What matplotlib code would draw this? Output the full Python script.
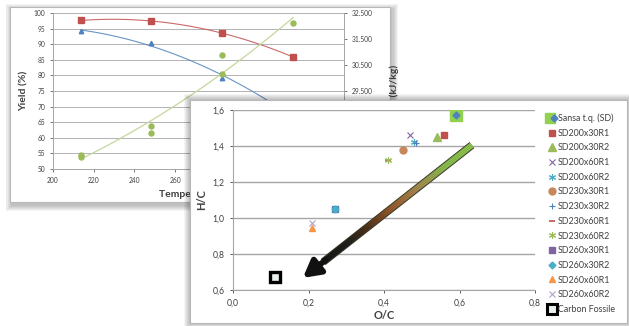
# two overlapping Excel-style panels: yield / HHV vs temperature, and van Krevelen H/C vs O/C

import matplotlib
matplotlib.use('Agg')
from matplotlib import pyplot as plt
from matplotlib.patches import Rectangle
from matplotlib.collections import LineCollection
from matplotlib.colors import LinearSegmentedColormap
from matplotlib.lines import Line2D
from matplotlib.legend_handler import HandlerTuple
import numpy as np

plt.rcParams['font.family'] = ['Lato', 'DejaVu Sans']

# ---- back panel data (temperature series)
temp = [214, 248, 283, 318]
yield_solid = [97.6, 97.5, 93.5, 85.9]          # red squares
yield_energy = [94.2, 90.4, 79.2, 67.0]         # blue triangles
temp_hhv = [214, 214, 248, 248, 283, 283, 318]
hhv = [26980, 27050, 28140, 27880, 30880, 30140, 32100]  # green circles, right axis

# ---- front panel data (van Krevelen)
samples = ['Sansa t.q. (SD)', 'SD200x30R1', 'SD200x30R2', 'SD200x60R1', 'SD200x60R2',
           'SD230x30R1', 'SD230x30R2', 'SD230x60R1', 'SD230x60R2', 'SD260x30R1',
           'SD260x30R2', 'SD260x60R1', 'SD260x60R2', 'Carbon Fossile']
oc = [0.59, 0.56, 0.54, 0.47, 0.48, 0.45, 0.485, 0.41, 0.41, 0.27, 0.27, 0.21, 0.21, 0.11]
hc = [1.57, 1.46, 1.45, 1.46, 1.42, 1.38, 1.415, 1.32, 1.32, 1.05, 1.05, 0.945, 0.97, 0.675]
arrow_oc = [0.633, 0.185]
arrow_hc = [1.405, 0.667]

W, H = 629, 326
fig = plt.figure(figsize=(W / 100, H / 100), dpi=100)
fig.patch.set_facecolor('white')


def frac(x0, y0, x1, y1):
    # pixel box (top-left origin) -> figure fraction rect
    return [x0 / W, 1 - y1 / H, (x1 - x0) / W, (y1 - y0) / H]


def panel(x0, y0, x1, y1, z, dx=3, dy=3):
    for i in range(6, 0, -1):
        r = Rectangle(((x0 - i + dx * 0.5) / W, 1 - (y1 + i + dy) / H),
                      (x1 - x0 + 2 * i) / W, (y1 - y0 + 2 * i) / H,
                      transform=fig.transFigure, facecolor='black', alpha=0.045,
                      edgecolor='none', zorder=z)
        fig.add_artist(r)
    r = Rectangle((x0 / W, 1 - y1 / H), (x1 - x0) / W, (y1 - y0) / H,
                  transform=fig.transFigure, facecolor='white', edgecolor='#b8b8b8',
                  lw=0.8, zorder=z + 0.05)
    fig.add_artist(r)


# ================= back panel =================
panel(10, 7, 390, 202, 0.1)

ax1 = fig.add_axes(frac(53, 13, 344, 169))
ax1.set_zorder(0.5)
ax1.patch.set_visible(False)
ax2 = ax1.twinx()
ax2.set_zorder(0.6)

tf = np.linspace(min(temp), max(temp), 100)
p_red = np.polyfit(temp, yield_solid, 2)
p_blue = np.polyfit(temp, yield_energy, 2)
p_green = np.polyfit(temp_hhv, hhv, 2)
ax1.plot(tf, np.polyval(p_red, tf), color='#c0504d', lw=0.8, alpha=0.85)
ax1.plot(tf, np.polyval(p_blue, tf), color='#4f81bd', lw=0.8, alpha=0.85)
ax1.plot(temp, yield_solid, 's', color='#c0504d', ms=4.2, ls='none')
ax1.plot(temp, yield_energy, '^', color='#4f81bd', ms=3.2, ls='none')
ax2.plot(tf, np.polyval(p_green, tf), color='#c4d79b', lw=0.9)
ax2.plot(temp_hhv, hhv, 'o', color='#9bbb59', ms=3.6, ls='none')

ax1.set_xlim(200, 343)
ax1.set_ylim(50, 100)
ax1.set_yticks(np.arange(50, 101, 5))
ax1.set_xticks(np.arange(200, 341, 20))
ax2.set_ylim(26500, 32500)
ax2.set_yticks(np.arange(26500, 32501, 1000))
ax2.set_yticklabels([f'{v:,.0f}'.replace(',', '.') for v in np.arange(26500, 32501, 1000)])

ax1.yaxis.grid(True, color='#a6a6a6', lw=0.6)
ax1.set_axisbelow(True)
for a in (ax1, ax2):
    for s in a.spines.values():
        s.set_color('#a6a6a6')
        s.set_linewidth(0.6)
    a.spines['top'].set_visible(False)
    a.tick_params(labelsize=4.8, colors='#404040', length=2, width=0.5)
ax2.spines['right'].set_visible(True)

ax1.set_ylabel('Yield (%)', fontsize=7.5, fontweight='bold', color='#404040', labelpad=4)
ax1.set_xlabel('Temperatura (°C)', fontsize=7.5, fontweight='bold', color='#404040', labelpad=4)
ax2.set_ylabel('PCS (kJ/kg)', fontsize=7.5, fontweight='bold', color='#404040',
               rotation=90, labelpad=12)

# ================= front panel =================
panel(190, 100, 627, 323, 1.0, dx=0, dy=0)

ax = fig.add_axes(frac(233, 110, 535, 290))
ax.set_zorder(2)
ax.patch.set_visible(False)

styles = [
    dict(marker='D', color='#4f81bd', ms=3.5),
    dict(marker='s', color='#c0504d', ms=5),
    dict(marker='^', color='#9bbb59', ms=5.5),
    dict(marker='x', color='#8064a2', ms=5, mew=0.8),
    dict(marker=(6, 2, 0), color='#4bacc6', ms=5, mew=0.8),
    dict(marker='o', color='#c8875a', ms=5),
    dict(marker='+', color='#4f81bd', ms=5, mew=0.8),
    dict(marker='_', color='#c0504d', ms=4, mew=1.2),
    dict(marker=(6, 2, 0), color='#9bbb59', ms=5, mew=0.8),
    dict(marker='s', color='#8064a2', ms=5),
    dict(marker='D', color='#4bacc6', ms=3.5),
    dict(marker='^', color='#f79646', ms=5),
    dict(marker='x', color='#b3a2c7', ms=5, mew=0.8),
    dict(marker='s', color='black', ms=7, mfc='#e8f0f0', mew=2.4),
]

# Sansa t.q.: green frame behind the diamond
ax.plot(oc[0], hc[0], 's', color='#92d050', ms=9, zorder=3)
hs = []
for i, name in enumerate(samples):
    st = dict(styles[i])
    if i == 9:
        st['color'] = '#4f81bd'  # visible square in the plot is blue
    ax.plot(oc[i], hc[i], ls='none', zorder=4, **st)
    hs.append(Line2D([], [], ls='none', **styles[i]))
hs[0] = (Line2D([], [], ls='none', marker='s', color='#92d050', ms=7.5),
         Line2D([], [], ls='none', **styles[0]))
hs[-1] = Line2D([], [], ls='none', marker='s', color='black', ms=6.5, mfc='#e8f0f0', mew=2.2)

# gradient arrow
t = np.linspace(0, 1, 150)
head_frac = 0.12
xs = arrow_oc[0] + (arrow_oc[1] - arrow_oc[0]) * t * (1 - head_frac)
ys = arrow_hc[0] + (arrow_hc[1] - arrow_hc[0]) * t * (1 - head_frac)
pts = np.column_stack([xs, ys]).reshape(-1, 1, 2)
segs = np.concatenate([pts[:-1], pts[1:]], axis=1)
cmap = LinearSegmentedColormap.from_list(
    'g2b', [(0, '#92d050'), (0.18, '#8fc850'), (0.38, '#b08a50'), (0.55, '#9c5b2a'),
            (0.72, '#4a2c18'), (0.85, '#1a1a1a'), (1, '#111111')])
ax.plot(xs, ys, color='#3b3b2a', lw=5.6, solid_capstyle='butt', zorder=5)
lc = LineCollection(segs, cmap=cmap, lw=4.2, capstyle='butt', zorder=6)
lc.set_array(t[:-1])
ax.add_collection(lc)
ax.annotate('', xy=(arrow_oc[1], arrow_hc[1]), xytext=(xs[-3], ys[-3]),
            arrowprops=dict(arrowstyle='-|>,head_length=1.0,head_width=0.55',
                            color='#111111', lw=4.2, mutation_scale=10,
                            shrinkA=0, shrinkB=0), zorder=7)

ax.set_xlim(0, 0.8)
ax.set_ylim(0.6, 1.6)
ax.set_xticks(np.arange(0, 0.81, 0.2))
ax.set_yticks(np.arange(0.6, 1.61, 0.2))
ax.set_xticklabels([f'{v:.1f}'.replace('.', ',') for v in np.arange(0, 0.81, 0.2)])
ax.set_yticklabels([f'{v:.1f}'.replace('.', ',') for v in np.arange(0.6, 1.61, 0.2)])
ax.yaxis.grid(True, color='#a6a6a6', lw=1.0)
ax.set_axisbelow(True)
for s in ('top', 'right'):
    ax.spines[s].set_visible(False)
for s in ('left', 'bottom'):
    ax.spines[s].set_color('#a6a6a6')
    ax.spines[s].set_linewidth(0.8)
ax.tick_params(labelsize=6.2, colors='#404040', length=2.5, width=0.6)
ax.set_xlabel('O/C', fontsize=8, fontweight='bold', color='#404040', labelpad=2)
ax.set_ylabel('H/C', fontsize=8, fontweight='bold', color='#404040', labelpad=4)

leg = ax.legend(hs, samples, loc='upper left', bbox_to_anchor=(544 / W, 1 - 109 / H),
                bbox_transform=fig.transFigure, frameon=False, fontsize=6.4,
                handlelength=0.8, handletextpad=0.25, labelspacing=0.64, borderpad=0,
                handler_map={tuple: HandlerTuple(ndivide=None)})
for txt in leg.get_texts():
    txt.set_color('#404040')

fig.savefig('out.png', dpi=100)
